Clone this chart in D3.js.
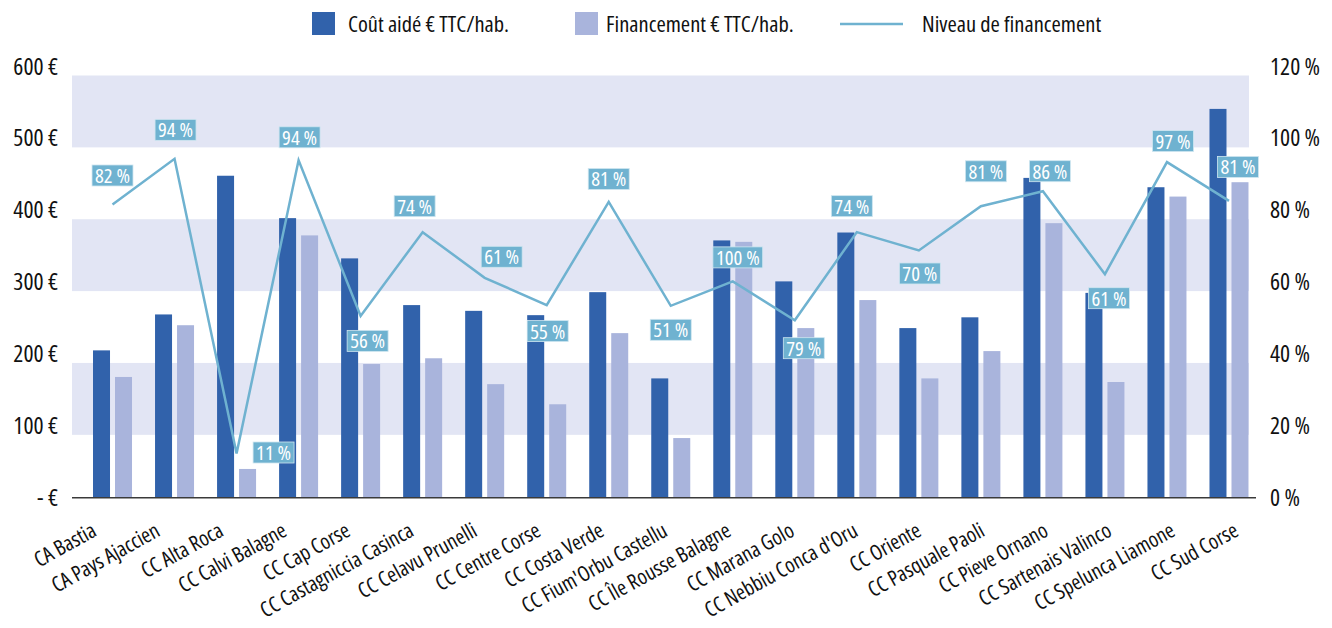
<!DOCTYPE html>
<html>
<head>
<meta charset="utf-8">
<script src="https://cdn.jsdelivr.net/npm/d3@7"></script>
<style>
  body { margin: 0; background: #fff; }
  svg text { fill: #111; }
</style>
</head>
<body>
<div id="chart"></div>
<script>
// data
var territories = ["CA Bastia", "CA Pays Ajaccien", "CC Alta Roca", "CC Calvi Balagne", "CC Cap Corse",
  "CC Castagniccia Casinca", "CC Celavu Prunelli", "CC Centre Corse", "CC Costa Verde", "CC Fium'Orbu Castellu",
  "CC Île Rousse Balagne", "CC Marana Golo", "CC Nebbiu Conca d'Oru", "CC Oriente", "CC Pasquale Paoli",
  "CC Pieve Ornano", "CC Sartenais Valinco", "CC Spelunca Liamone", "CC Sud Corse"];
var coutAide = [205, 255, 448, 389, 333, 268, 260, 254, 286, 166, 358, 301, 369, 236, 251, 445, 285, 432, 541];
var financement = [168, 240, 40, 365, 186, 194, 158, 130, 229, 83, 356, 236, 275, 166, 204, 382, 161, 419, 439];
var niveau = [81.6, 94.3, 12.3, 93.9, 50.6, 73.9, 61.2, 53.6, 82.3, 53.4, 60.2, 49.4, 73.9, 68.8, 81.1, 85.3, 62.2, 93.4, 82.6];
var niveauLabels = [82, 94, 11, 94, 56, 74, 61, 55, 81, 51, 100, 79, 74, 70, 81, 86, 61, 97, 81];
var euroTicks = [0, 100, 200, 300, 400, 500, 600];
var pctTicks = [0, 20, 40, 60, 80, 100, 120];
var bandRanges = [[100, 200], [300, 400], [500, 600]];

// hand-placed data label nudges (px from the line point), as in the source chart
var labelNudge = [[0, -29], [1, -29], [37, -1], [1, -23], [7, 25], [-8, -26], [17, -21], [1, 26], [0, -23], [0, 24],
  [5, -24], [9, 28], [-5, -26], [1, 23], [5, -35], [7, -20], [4, 24], [6, -21], [9, -34]];

var width = 1332, height = 628;
var darkBlue = "#3162ab", lightBlue = "#a9b4dc", lineBlue = "#6fb2d0", bandFill = "#e2e5f4";

var svg = d3.select("#chart").append("svg")
  .attr("width", width)
  .attr("height", height);

// pick a narrow font: the source uses a condensed face
var fontChoices = [["Noto Sans", "condensed"], ["Open Sans", "condensed"], ["DejaVu Sans Condensed", "normal"]];
var font = fontChoices[fontChoices.length - 1], k = 1;
for (var c = 0; c < fontChoices.length; c++) {
  var t = svg.append("text")
    .style("font-family", `"${fontChoices[c][0]}"`)
    .style("font-stretch", fontChoices[c][1])
    .attr("font-size", 18)
    .text("CC Sud Corse");
  var w = t.node().getComputedTextLength();
  t.remove();
  if (w <= 101 || c === fontChoices.length - 1) {
    font = fontChoices[c];
    k = 96 / w;
    break;
  }
}
function fs(size) { return (size * k).toFixed(1) + "px"; }
svg.style("font-family", `"${font[0]}", sans-serif`).style("font-stretch", font[1]);

var x = d3.scaleBand().domain(territories).range([81.5, 1260]);
var xLabel = d3.scalePoint().domain(territories).range([98, 1240]);
var yEuro = d3.scaleLinear().domain([0, 600]).range([497.7, 66.5]);
var yPct = d3.scaleLinear().domain([0, 120]).range([497.7, 66.5]);
var barW = 17, gap = 2.5;

// background bands
svg.append("g").selectAll("rect")
  .data(bandRanges)
  .enter()
  .append("rect")
  .attr("x", 72)
  .attr("width", 1249 - 72)
  .attr("y", d => yEuro(d[1]) + 9)
  .attr("height", d => yEuro(d[0]) - yEuro(d[1]))
  .attr("fill", bandFill);

// bars
var groups = svg.append("g").selectAll("g")
  .data(territories)
  .enter()
  .append("g")
  .attr("transform", d => `translate(${x(d) + x.bandwidth() / 2},0)`);

groups.append("rect")
  .attr("x", -gap - barW)
  .attr("width", barW)
  .attr("y", (d, i) => yEuro(coutAide[i]))
  .attr("height", (d, i) => yEuro(0) - yEuro(coutAide[i]))
  .attr("fill", darkBlue);

groups.append("rect")
  .attr("x", gap)
  .attr("width", barW)
  .attr("y", (d, i) => yEuro(financement[i]))
  .attr("height", (d, i) => yEuro(0) - yEuro(financement[i]))
  .attr("fill", lightBlue);

// baseline
svg.append("line")
  .attr("x1", 72).attr("x2", 1256)
  .attr("y1", yEuro(0)).attr("y2", yEuro(0))
  .attr("stroke", "#3a3a3a")
  .attr("stroke-width", 1.5);

// left axis
var leftAxis = d3.axisLeft(yEuro).tickValues(euroTicks).tickSize(0).tickPadding(0)
  .tickFormat(d => d === 0 ? "- €" : d + " €");
svg.append("g")
  .attr("transform", "translate(58,0)")
  .call(leftAxis)
  .call(g => g.select(".domain").remove())
  .call(g => g.attr("font-family", null))
  .selectAll("text")
  .attr("font-size", fs(20))
  .attr("fill", "#111");

// right axis
var rightAxis = d3.axisRight(yPct).tickValues(pctTicks).tickSize(0).tickPadding(0)
  .tickFormat(d => d + " %");
svg.append("g")
  .attr("transform", "translate(1270,0)")
  .call(rightAxis)
  .call(g => g.select(".domain").remove())
  .call(g => g.attr("font-family", null))
  .selectAll("text")
  .attr("font-size", fs(20))
  .attr("fill", "#111");

// category labels
svg.append("g").selectAll("text")
  .data(territories)
  .enter()
  .append("text")
  .attr("transform", d => `translate(${xLabel(d)},535) rotate(-29)`)
  .attr("text-anchor", "end")
  .attr("font-size", fs(18))
  .text(d => d);

// line
var line = d3.line()
  .x((d, i) => x(territories[i]) + x.bandwidth() / 2)
  .y(d => yPct(d));

svg.append("path")
  .datum(niveau)
  .attr("d", line)
  .attr("fill", "none")
  .attr("stroke", lineBlue)
  .attr("stroke-width", 2.5);

// data labels
var labels = svg.append("g").selectAll("g")
  .data(niveauLabels)
  .enter()
  .append("g")
  .attr("transform", (d, i) => {
    var px = x(territories[i]) + x.bandwidth() / 2 + labelNudge[i][0];
    var py = yPct(niveau[i]) + labelNudge[i][1];
    return `translate(${px},${py})`;
  });

labels.append("rect")
  .attr("fill", lineBlue)
  .attr("stroke", "#cfe6f0")
  .attr("stroke-width", 0.8);

labels.append("text")
  .attr("text-anchor", "middle")
  .attr("dy", "0.36em")
  .attr("font-size", fs(17.5))
  .style("fill", "#fff")
  .text(d => d + " %");

labels.each(function() {
  var g = d3.select(this);
  var bb = g.select("text").node().getBBox();
  g.select("rect")
    .attr("x", -bb.width / 2 - 3)
    .attr("width", bb.width + 6)
    .attr("y", -10.5)
    .attr("height", 21);
});

// legend
var legend = svg.append("g");
legend.append("rect").attr("x", 312).attr("y", 12).attr("width", 23).attr("height", 23).attr("fill", darkBlue);
legend.append("text").attr("x", 348).attr("y", 24).attr("dy", "0.35em").attr("font-size", fs(19)).text("Coût aidé € TTC/hab.");
legend.append("rect").attr("x", 575).attr("y", 12).attr("width", 23).attr("height", 23).attr("fill", lightBlue);
legend.append("text").attr("x", 606).attr("y", 24).attr("dy", "0.35em").attr("font-size", fs(19)).text("Financement € TTC/hab.");
legend.append("line").attr("x1", 840).attr("x2", 903).attr("y1", 24).attr("y2", 24)
  .attr("stroke", lineBlue).attr("stroke-width", 2.5);
legend.append("text").attr("x", 922).attr("y", 24).attr("dy", "0.35em").attr("font-size", fs(19)).text("Niveau de financement");
</script>
</body>
</html>
